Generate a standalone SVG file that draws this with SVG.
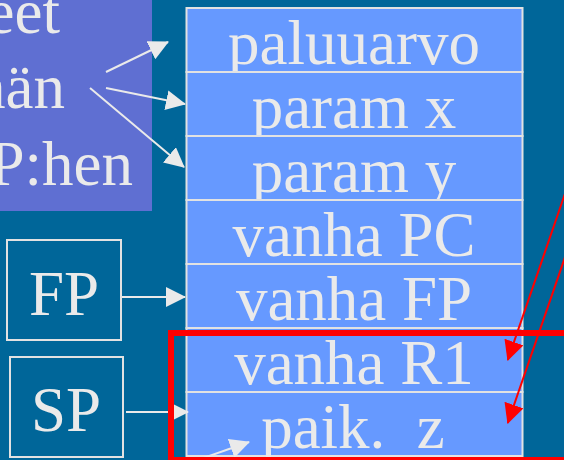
<svg xmlns="http://www.w3.org/2000/svg" width="564" height="460" viewBox="0 0 564 460">
  <style>
    .t { font-family: "Liberation Serif", "Times New Roman", serif; font-size: 63px; fill: #EAEAEA; white-space: pre; }
    .cell { fill: #6699FF; stroke: #E2E2E2; stroke-width: 2; }
    .box { fill: none; stroke: #E2E2E2; stroke-width: 2; }
    .wl { stroke: #EAEAEA; stroke-width: 2; fill: none; }
    .rl { stroke: #FF0000; stroke-width: 2; fill: none; }
  </style>
  <defs>
    <marker id="wh" viewBox="0 0 20 20" markerUnits="userSpaceOnUse" markerWidth="20" markerHeight="20" refX="19" refY="10" orient="auto">
      <path d="M0,0 L20,10 L0,20 z" fill="#EAEAEA"/>
    </marker>
    <marker id="rh" viewBox="0 0 20 20" markerUnits="userSpaceOnUse" markerWidth="20" markerHeight="20" refX="19" refY="10" orient="auto">
      <path d="M0,0 L20,10 L0,20 z" fill="#FF0000"/>
    </marker>
  </defs>
  <rect x="0" y="0" width="564" height="460" fill="#006699"/>

  <g id="note">
    <rect x="0" y="0" width="152" height="211" fill="#5F6FD2"/>
    <text class="t" x="60" y="33" text-anchor="end">eet</text>
    <text class="t" x="65" y="108" text-anchor="end">hän</text>
    <text class="t" x="133" y="185" text-anchor="end">P:hen</text>
  </g>

  <g id="stack">
    <g id="row-paluuarvo"><rect class="cell" x="186.5" y="8" width="336" height="64"/><text class="t" x="354" y="64" text-anchor="middle">paluuarvo</text></g>
    <g id="row-paramx"><rect class="cell" x="186.5" y="72" width="336" height="64"/><text class="t" x="354" y="128" text-anchor="middle">param x</text></g>
    <g id="row-paramy"><rect class="cell" x="186.5" y="136" width="336" height="64"/><text class="t" x="354" y="192" text-anchor="middle">param y</text></g>
    <g id="row-vanhapc"><rect class="cell" x="186.5" y="200" width="336" height="64"/><text class="t" x="354" y="256" text-anchor="middle">vanha PC</text></g>
    <g id="row-vanhafp"><rect class="cell" x="186.5" y="264" width="336" height="64"/><text class="t" x="354" y="320" text-anchor="middle">vanha FP</text></g>
    <g id="row-vanhar1"><rect class="cell" x="186.5" y="328" width="336" height="64"/><text class="t" x="354" y="384" text-anchor="middle">vanha R1</text></g>
    <g id="row-paikz"><rect class="cell" x="186.5" y="392" width="336" height="64"/><text class="t" x="353" y="448" text-anchor="middle">paik.  z</text></g>
  </g>

  <g id="fp">
    <rect class="box" x="7" y="240" width="114" height="100"/>
    <text class="t" x="64" y="315" text-anchor="middle">FP</text>
  </g>
  <g id="sp">
    <rect class="box" x="10" y="357" width="113" height="100"/>
    <text class="t" x="66" y="431" text-anchor="middle">SP</text>
  </g>

  <g id="connectors">
    <line class="wl" x1="106" y1="72" x2="168" y2="42" marker-end="url(#wh)"/>
    <line class="wl" x1="106" y1="88" x2="185" y2="104" marker-end="url(#wh)"/>
    <line class="wl" x1="90" y1="88" x2="184" y2="167" marker-end="url(#wh)"/>
    <line class="wl" x1="122" y1="297" x2="185" y2="297" marker-end="url(#wh)"/>
    <line class="wl" x1="126" y1="412" x2="188" y2="412" marker-end="url(#wh)"/>
    <line class="wl" x1="195" y1="461" x2="249" y2="442" marker-end="url(#wh)"/>
  </g>

  <g id="highlight">
    <rect x="171" y="333" width="440" height="127" fill="none" stroke="#FF0000" stroke-width="6"/>
  </g>

  <g id="red-connectors">
    <line class="rl" x1="580" y1="150" x2="507.8" y2="360" marker-end="url(#rh)"/>
    <line class="rl" x1="602" y1="150" x2="507.8" y2="423" marker-end="url(#rh)"/>
  </g>
</svg>
